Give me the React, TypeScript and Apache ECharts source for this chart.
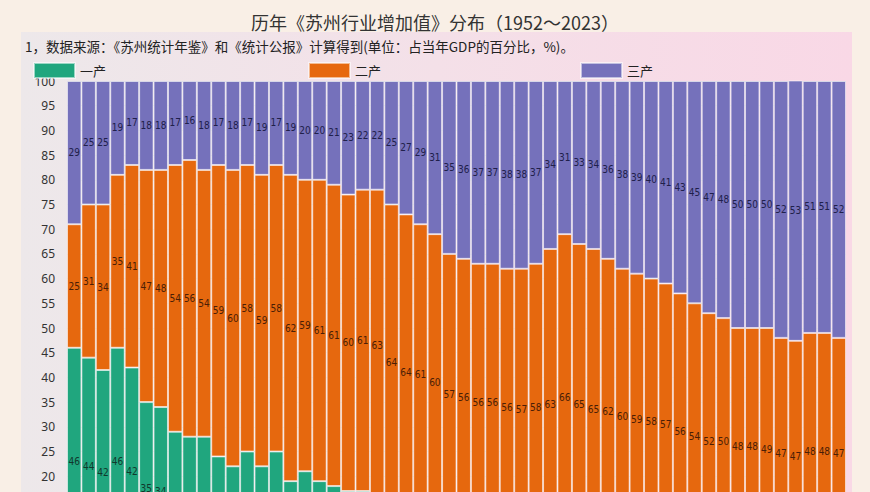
import React, { useEffect, useRef } from "react";
import * as echarts from "echarts";

const years = [
  "1952", "1957", "1960", "1962", "1965", "1970", "1975", "1977",
  "1978", "1979", "1980", "1981", "1982", "1983", "1984", "1985", "1986", "1987", "1988", "1989",
  "1990", "1991", "1992", "1993", "1994", "1995", "1996", "1997", "1998", "1999",
  "2000", "2001", "2002", "2003", "2004", "2005", "2006", "2007", "2008", "2009",
  "2010", "2011", "2012", "2013", "2014", "2015", "2016", "2017", "2018", "2019",
  "2020", "2021", "2022", "2023",
];

const primary = [
  46, 44, 41.5, 46, 42, 35, 34, 29,
  28, 28, 24, 22, 25, 22, 25, 19, 21, 19, 18, 17,
  17, 15, 11, 9, 10, 9, 8, 8, 7, 7,
  6, 5, 5, 3, 3, 2, 1, 2, 2, 2,
  2, 2, 1, 1, 1, 2, 2, 2, 1, 1,
  0.4, 1, 1, 1,
];

const secondary = [
  25, 31, 33.5, 35, 41, 47, 48, 54,
  56, 54, 59, 60, 58, 59, 58, 62, 59, 61, 61, 60,
  61, 63, 64, 64, 61, 60, 57, 56, 56, 56,
  56, 57, 58, 63, 66, 65, 65, 62, 60, 59,
  58, 57, 56, 54, 52, 50, 48, 48, 49, 47,
  47, 48, 48, 47,
];

const tertiary = [
  29, 25, 25, 19, 17, 18, 18, 17,
  16, 18, 17, 18, 17, 19, 17, 19, 20, 20, 21, 23,
  22, 22, 25, 27, 29, 31, 35, 36, 37, 37,
  38, 38, 37, 34, 31, 33, 34, 36, 38, 39,
  40, 41, 43, 45, 47, 48, 50, 50, 50, 52,
  53, 51, 51, 52,
];

const yTicks = [0, 5, 10, 15, 20, 25, 30, 35, 40, 45, 50, 55, 60, 65, 70, 75, 80, 85, 90, 95, 100];

const titleText = "历年《苏州行业增加值》分布（1952～2023）";
const noteText = "1，数据来源：《苏州统计年鉴》和《统计公报》计算得到(单位：占当年GDP的百分比，%)。";
const seriesNames = ["一产", "二产", "三产"];

const COLORS = ["#20a67e", "#e6680e", "#7571bb"];
const LABEL_COLORS = ["#10382c", "#4a1e06", "#20204a"];

// the reference picture is cut at its lower edge, near the 17 mark of the value axis
const VISIBLE_FLOOR = 16.8;

export default function App() {
  const ref = useRef<HTMLDivElement>(null);

  useEffect(() => {
    if (!ref.current) return;
    const chart = echarts.init(ref.current, undefined, { renderer: "svg" });
    const datasets = [primary, secondary, tertiary];
    const fontCJK = "'Noto Sans CJK SC', 'Noto Sans', sans-serif";

    const series = datasets.map((d, i) => ({
      name: seriesNames[i],
      type: "bar",
      stack: "total",
      barCategoryGap: "0%",
      data: d.map((v, j) => {
        let base = 0;
        for (let k = 0; k < i; k++) base += datasets[k][j];
        const mid = base + v / 2;
        return mid < VISIBLE_FLOOR ? { value: v, label: { show: false } } : v;
      }),
      itemStyle: {
        color: COLORS[i],
        borderColor: "rgba(255,255,255,0.55)",
        borderWidth: 1,
      },
      label: {
        show: true,
        position: "inside",
        formatter: (p: any) => String(Math.round(p.value)),
        fontSize: 10,
        color: LABEL_COLORS[i],
        fontFamily: "'Liberation Sans Narrow', 'DejaVu Sans Condensed', sans-serif",
      },
    }));

    chart.setOption({
      animation: false,
      backgroundColor: "#f9efe6",
      graphic: [
        {
          type: "rect",
          z: -10,
          silent: true,
          shape: { x: 21, y: 32, width: 831, height: 600 },
          style: {
            fill: new echarts.graphic.LinearGradient(0, 0, 1, 0, [
              { offset: 0, color: "#ede8ea" },
              { offset: 0.5, color: "#f4e0e8" },
              { offset: 1, color: "#f9d8e6" },
            ]),
          },
        },
        {
          type: "text",
          left: 25,
          top: 39,
          style: {
            text: noteText,
            fontSize: 13.5,
            fill: "#222",
            fontFamily: fontCJK,
          },
        },
      ],
      title: {
        text: titleText,
        left: "center",
        top: 8,
        textStyle: {
          fontSize: 18,
          fontWeight: "normal",
          color: "#333",
          fontFamily: fontCJK,
        },
      },
      legend: seriesNames.map((n, i) => ({
        data: [n],
        left: [33, 308, 580][i],
        top: 62,
        padding: 0,
        itemWidth: 41,
        itemHeight: 15,
        itemGap: 5,
        icon: "rect",
        textStyle: { fontSize: 13, color: "#222", fontFamily: fontCJK },
        selectedMode: false,
      })),
      grid: { left: 67, top: 81, width: 779, height: 494 },
      xAxis: {
        type: "category",
        data: years,
        axisLine: { show: false },
        axisTick: { show: false },
        axisLabel: { show: false },
      },
      yAxis: {
        type: "value",
        min: yTicks[0],
        max: yTicks[yTicks.length - 1],
        interval: 5,
        axisLine: { show: false },
        axisTick: { show: false },
        splitLine: { show: true, lineStyle: { color: "#ddd" } },
        axisLabel: {
          fontSize: 12,
          color: "#333",
          margin: 12,
          fontFamily: "'Noto Sans', sans-serif",
          formatter: (v: number) => (v < 20 ? "" : String(v)),
        },
      },
      series,
    });
    return () => chart.dispose();
  }, []);

  return (
    <div
      ref={ref}
      style={{ position: "fixed", left: 0, top: 0, width: 870, height: 620 }}
    />
  );
}
